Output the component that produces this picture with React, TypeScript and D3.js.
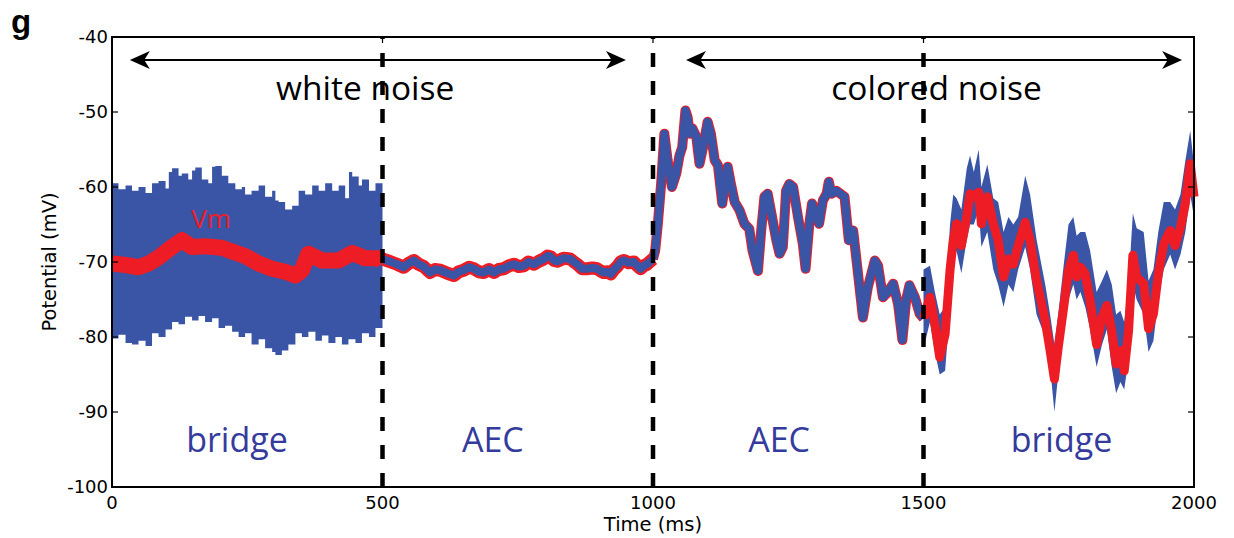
import React from "react";
import * as d3 from "d3";

// ---------- axis ticks ----------
const xTicks = [0, 500, 1000, 1500, 2000];
const yTicks = [-40, -50, -60, -70, -80, -90, -100];
const boundaries = [500, 1000, 1500];

// ---------- white noise, bridge (0-500 ms): recorded envelope (blue) ----------
const bwUpperT = [0, 12, 25, 37, 49, 62, 74, 86, 99, 105, 111, 123, 129, 141, 148, 154, 166, 178, 185, 191, 203, 215, 228, 240, 246, 258, 271, 283, 296, 302, 308, 320, 333, 345, 357, 370, 382, 394, 407, 419, 431, 438, 444, 456, 462, 475, 487, 500];
const bwUpper = [-59.5, -60.3, -59.8, -60.5, -60.0, -60.8, -59.5, -59.2, -60.2, -58.0, -57.5, -58.5, -58.2, -59.0, -57.8, -57.4, -59.0, -59.5, -57.3, -57.2, -58.5, -59.5, -60.3, -60.0, -61.0, -60.5, -59.8, -61.3, -60.5, -61.8, -62.0, -63.0, -62.5, -60.5, -61.0, -59.8, -60.5, -59.5, -60.5, -59.8, -61.5, -58.0, -58.6, -59.8, -59.0, -60.5, -59.5, -58.3];
const bwLowerT = [0, 12, 25, 37, 49, 62, 74, 86, 99, 111, 123, 135, 148, 160, 172, 185, 197, 209, 222, 234, 246, 258, 271, 283, 296, 302, 314, 326, 339, 351, 363, 376, 388, 400, 413, 425, 437, 450, 462, 475, 487, 500];
const bwLower = [-79.5, -80.2, -79.7, -80.8, -81.0, -80.5, -81.2, -79.5, -80.0, -79.0, -78.0, -78.3, -77.3, -77.8, -77.2, -78.0, -77.5, -78.8, -78.5, -79.3, -80.0, -79.5, -81.0, -80.3, -81.5, -82.0, -82.4, -81.8, -81.0, -79.5, -80.0, -79.3, -80.5, -79.8, -80.8, -80.0, -81.0, -80.3, -80.8, -79.5, -80.0, -78.8];

// ---------- white noise, bridge (0-500 ms): true Vm (red) ----------
const vmWhiteT = [0, 25, 49, 68, 86, 111, 129, 148, 172, 203, 222, 246, 271, 296, 320, 339, 351, 363, 388, 419, 444, 468, 493, 500];
const vmWhite = [-70.2, -70.4, -70.7, -70.2, -69.4, -68.0, -67.1, -68.0, -67.9, -68.1, -68.6, -69.2, -70.2, -70.9, -71.3, -71.8, -71.1, -68.9, -69.8, -69.8, -68.8, -69.5, -69.5, -70.0];

// ---------- AEC recordings (500-1500 ms) ----------
const aecT = [500, 512, 527, 539, 548, 558, 567, 576, 588, 597, 607, 620, 632, 641, 650, 660, 669, 678, 687, 697, 706, 715, 724, 734, 743, 752, 761, 770, 780, 789, 798, 805, 811, 817, 823, 835, 847, 854, 860, 869, 878, 888, 897, 903, 909, 916, 922, 928, 934, 940, 946, 955, 965, 971, 977, 983, 989, 995, 1000,
  1004, 1009, 1015, 1021, 1027, 1035, 1043, 1049, 1054, 1060, 1064, 1068, 1073, 1080, 1086, 1092, 1101, 1107, 1114, 1120, 1128, 1138, 1144, 1151, 1160, 1169, 1178, 1184, 1194, 1200, 1206, 1212, 1219, 1228, 1234, 1240, 1246, 1252, 1259, 1268, 1277, 1282, 1289, 1294, 1301, 1307, 1314, 1321, 1325, 1330, 1339, 1354, 1362, 1370, 1377, 1388, 1397, 1410, 1416, 1425, 1434, 1444, 1453, 1461, 1468, 1474, 1484, 1493, 1500];
const aecV = [-69.6, -69.9, -70.3, -70.7, -70.2, -69.8, -70.3, -70.6, -71.4, -71.0, -71.1, -71.5, -71.8, -71.3, -71.1, -70.7, -70.9, -71.3, -71.4, -71.0, -71.4, -71.0, -70.9, -70.5, -70.3, -70.6, -70.5, -70.0, -70.3, -69.9, -69.6, -69.2, -69.3, -69.8, -69.9, -69.5, -69.6, -70.0, -70.3, -70.9, -70.9, -70.8, -70.9, -71.2, -71.4, -71.3, -71.6, -71.0, -70.6, -70.0, -69.8, -70.1, -70.0, -70.5, -70.9, -70.5, -70.3, -69.9, -69.6,
  -68.5, -64.9, -59.6, -52.9, -56.4, -60.0, -58.2, -55.8, -54.7, -49.8, -50.7, -52.9, -52.2, -53.3, -56.9, -54.9, -51.3, -52.9, -56.4, -57.1, -62.2, -57.3, -59.6, -62.0, -63.1, -64.9, -65.6, -68.5, -71.2, -65.8, -61.3, -60.9, -63.6, -67.1, -68.9, -68.0, -60.5, -59.6, -60.0, -64.0, -67.6, -70.9, -64.9, -62.2, -63.6, -64.9, -61.8, -60.9, -59.3, -60.9, -60.5, -61.3, -67.1, -65.8, -70.3, -77.4, -73.4, -69.8, -70.5, -74.7, -74.0, -72.9, -75.6, -80.4, -75.0, -73.1, -74.7, -76.9, -77.5];

// ---------- colored noise, bridge (1500-2000 ms) ----------
const bcT = [1500, 1512, 1521, 1530, 1540, 1549, 1555, 1561, 1570, 1580, 1586, 1593, 1602, 1607, 1618, 1629, 1638, 1648, 1657, 1666, 1675, 1688, 1697, 1709, 1725, 1734, 1742, 1749, 1759, 1768, 1777, 1783, 1790, 1799, 1808, 1820, 1830, 1839, 1848, 1856, 1864, 1871, 1879, 1887, 1894, 1907, 1916, 1925, 1934, 1944, 1956, 1965, 1975, 1984, 1993, 2000];
const bcVm = [-77.5, -74.7, -78.3, -82.7, -79.6, -71.1, -67.1, -64.9, -67.8, -64.0, -60.9, -61.3, -60.7, -64.9, -61.3, -64.9, -67.1, -72.0, -69.6, -70.3, -67.8, -64.7, -67.1, -72.5, -77.8, -81.8, -85.6, -81.4, -76.1, -71.1, -69.1, -72.0, -70.7, -71.6, -75.2, -81.0, -77.4, -75.8, -79.2, -83.6, -81.8, -84.5, -79.2, -69.1, -72.0, -72.9, -78.9, -76.9, -71.6, -67.6, -65.8, -67.8, -65.4, -62.2, -56.9, -61.3];
const bcUpper = [-71.0, -70.5, -74.0, -77.0, -76.0, -65.0, -61.0, -61.5, -63.0, -57.5, -55.8, -58.0, -55.0, -60.0, -57.0, -61.5, -62.0, -66.0, -64.0, -65.0, -64.0, -58.5, -61.0, -67.0, -73.0, -77.0, -81.0, -77.0, -70.5, -65.0, -64.0, -66.5, -66.0, -66.0, -68.5, -74.0, -72.5, -71.0, -73.0, -77.0, -76.5, -78.0, -73.0, -63.5, -65.5, -66.0, -72.5, -71.0, -66.0, -62.0, -62.0, -63.0, -61.0, -56.5, -52.5, -57.0];
const bcLower = [-81.5, -78.0, -82.0, -85.0, -84.5, -76.0, -70.0, -68.5, -71.5, -67.0, -65.0, -65.0, -63.0, -68.0, -66.0, -71.0, -73.0, -76.0, -73.0, -74.0, -71.0, -68.0, -71.0, -77.0, -80.0, -84.0, -90.0, -85.0, -79.0, -75.0, -73.0, -75.0, -74.0, -76.0, -79.0, -84.0, -81.0, -79.0, -84.0, -87.5, -86.0, -87.0, -83.0, -73.0, -75.0, -77.0, -82.0, -80.5, -75.0, -71.0, -69.0, -71.0, -69.0, -66.0, -61.0, -64.0];

// ---------- annotations ----------
const noiseLabels = [
  { text: "white noise", t: 468, v: -48.4 },
  { text: "colored noise", t: 1524, v: -48.4 },
];
const modeLabels = [
  { text: "bridge", t: 231, v: -95.3 },
  { text: "AEC", t: 704, v: -95.3 },
  { text: "AEC", t: 1233, v: -95.3 },
  { text: "bridge", t: 1755, v: -95.3 },
];
const arrowSpans = [
  { t0: 33, t1: 950, v: -43 },
  { t0: 1061, t1: 1978, v: -43 },
];

const BLUE = "#3a54a6";
const RED = "#ee1d25";
const TEXT_BLUE = "#343b9c";

function zip(t: number[], v: number[]) {
  return t.map((tt, i) => [tt, v[i]] as [number, number]);
}

export default function App() {
  const W = 1234;
  const H = 538;
  const L = 112, R = 1194, T = 37, B = 487;
  const x = d3.scaleLinear().domain([0, 2000]).range([L, R]);
  const y = d3.scaleLinear().domain([-100, -40]).range([B, T]);

  const line = d3.line<[number, number]>().x((d) => x(d[0])).y((d) => y(d[1]));

  const upperPts = zip(bwUpperT, bwUpper);
  const lowerPts = zip(bwLowerT, bwLower);
  const stepLine = d3.line<[number, number]>().x((d) => x(d[0])).y((d) => y(d[1])).curve(d3.curveStepAfter);
  const upPath = stepLine(upperPts) || "";
  const loPath = stepLine(lowerPts.slice().reverse()) || "";
  const bwArea = upPath + "L" + loPath.slice(1) + "Z";

  const bcArea = d3
    .area<number>()
    .x((_, i) => x(bcT[i]))
    .y0((_, i) => y(bcLower[i]))
    .y1((_, i) => y(bcUpper[i]))(bcT.map((_, i) => i)) || "";

  const aecWhite = zip(aecT, aecV).filter((d) => d[0] <= 1000);
  const aecColored = zip(aecT, aecV).filter((d) => d[0] >= 1000);

  const arrowHead = (xTip: number, yy: number, dir: number) => {
    const Lh = 20, h = 9;
    return `M${xTip},${yy} L${xTip + dir * Lh},${yy - h} L${xTip + dir * Lh * 0.72},${yy} L${xTip + dir * Lh},${yy + h} Z`;
  };

  return (
    <svg width={W} height={H} style={{ position: "absolute", left: 0, top: 0, background: "#fff" }}>
      <rect x={0} y={0} width={W} height={H} fill="#fff" />
      <text x={11} y={33} fontFamily="Liberation Sans, Arial, sans-serif" fontWeight="bold" fontSize={33} fill="#000">g</text>

      {/* traces */}
      <path d={bwArea} fill={BLUE} />
      <path d={line(zip(vmWhiteT, vmWhite)) || ""} fill="none" stroke={RED} strokeWidth={16} strokeLinejoin="round" />

      <path d={line(aecWhite) || ""} fill="none" stroke={RED} strokeWidth={13} strokeLinejoin="round" />
      <path d={line(aecWhite) || ""} fill="none" stroke={BLUE} strokeWidth={8} strokeLinejoin="round" />

      <path d={line(aecColored) || ""} fill="none" stroke={RED} strokeWidth={10} strokeLinejoin="round" />
      <path d={line(aecColored) || ""} fill="none" stroke={BLUE} strokeWidth={8} strokeLinejoin="round" />

      <path d={bcArea} fill={BLUE} />
      <path d={line(zip(bcT, bcVm)) || ""} fill="none" stroke={RED} strokeWidth={9} strokeLinejoin="round" />

      {/* dashed boundaries */}
      {boundaries.map((b) => (
        <line key={b} x1={x(b)} x2={x(b)} y1={B} y2={T} stroke="#000" strokeWidth={4.5} strokeDasharray="14,14" />
      ))}

      {/* arrows */}
      {arrowSpans.map((a, i) => {
        const x0 = x(a.t0), x1 = x(a.t1), yy = y(a.v) + 0.5;
        return (
          <g key={i}>
            <line x1={x0 + 10} x2={x1 - 10} y1={yy} y2={yy} stroke="#000" strokeWidth={2} />
            <path d={arrowHead(x0, yy, 1)} fill="#000" />
            <path d={arrowHead(x1, yy, -1)} fill="#000" />
          </g>
        );
      })}

      {noiseLabels.map((n) => (
        <text key={n.text} x={x(n.t)} y={y(n.v)} textAnchor="middle" fontFamily="Open Sans, sans-serif" fontSize={33.5} fill="#000">{n.text}</text>
      ))}
      {modeLabels.map((m, i) => (
        <text key={i} x={x(m.t)} y={y(m.v)} textAnchor="middle" fontFamily="Open Sans, sans-serif" fontSize={34} fill={TEXT_BLUE}>{m.text}</text>
      ))}
      <text x={x(183)} y={y(-65.4)} textAnchor="middle" fontFamily="Open Sans, sans-serif" fontSize={26} fill={RED}>Vm</text>

      {/* frame */}
      <rect x={L} y={T} width={R - L} height={B - T} fill="none" stroke="#000" strokeWidth={2} />

      {/* ticks */}
      {yTicks.map((v) => (
        <g key={v}>
          <line x1={L} x2={L + 6} y1={y(v)} y2={y(v)} stroke="#000" strokeWidth={1.2} />
          <line x1={R} x2={R - 6} y1={y(v)} y2={y(v)} stroke="#000" strokeWidth={1.2} />
          <text x={L - 4} y={y(v)} dy="0.36em" textAnchor="end" fontFamily="DejaVu Sans, sans-serif" fontSize={18} fill="#000">{v}</text>
        </g>
      ))}
      {xTicks.map((t) => (
        <g key={t}>
          <line x1={x(t)} x2={x(t)} y1={B} y2={B - 6} stroke="#000" strokeWidth={1.2} />
          <line x1={x(t)} x2={x(t)} y1={T} y2={T + 6} stroke="#000" strokeWidth={1.2} />
          <text x={x(t)} y={B + 22} textAnchor="middle" fontFamily="DejaVu Sans, sans-serif" fontSize={18} fill="#000">{t}</text>
        </g>
      ))}

      <text x={(L + R) / 2} y={531} textAnchor="middle" fontFamily="DejaVu Sans, sans-serif" fontSize={19.5} fill="#000">Time (ms)</text>
      <text transform={`translate(56, ${(T + B) / 2}) rotate(-90)`} textAnchor="middle" fontFamily="DejaVu Sans, sans-serif" fontSize={19.5} fill="#000">Potential (mV)</text>
    </svg>
  );
}
